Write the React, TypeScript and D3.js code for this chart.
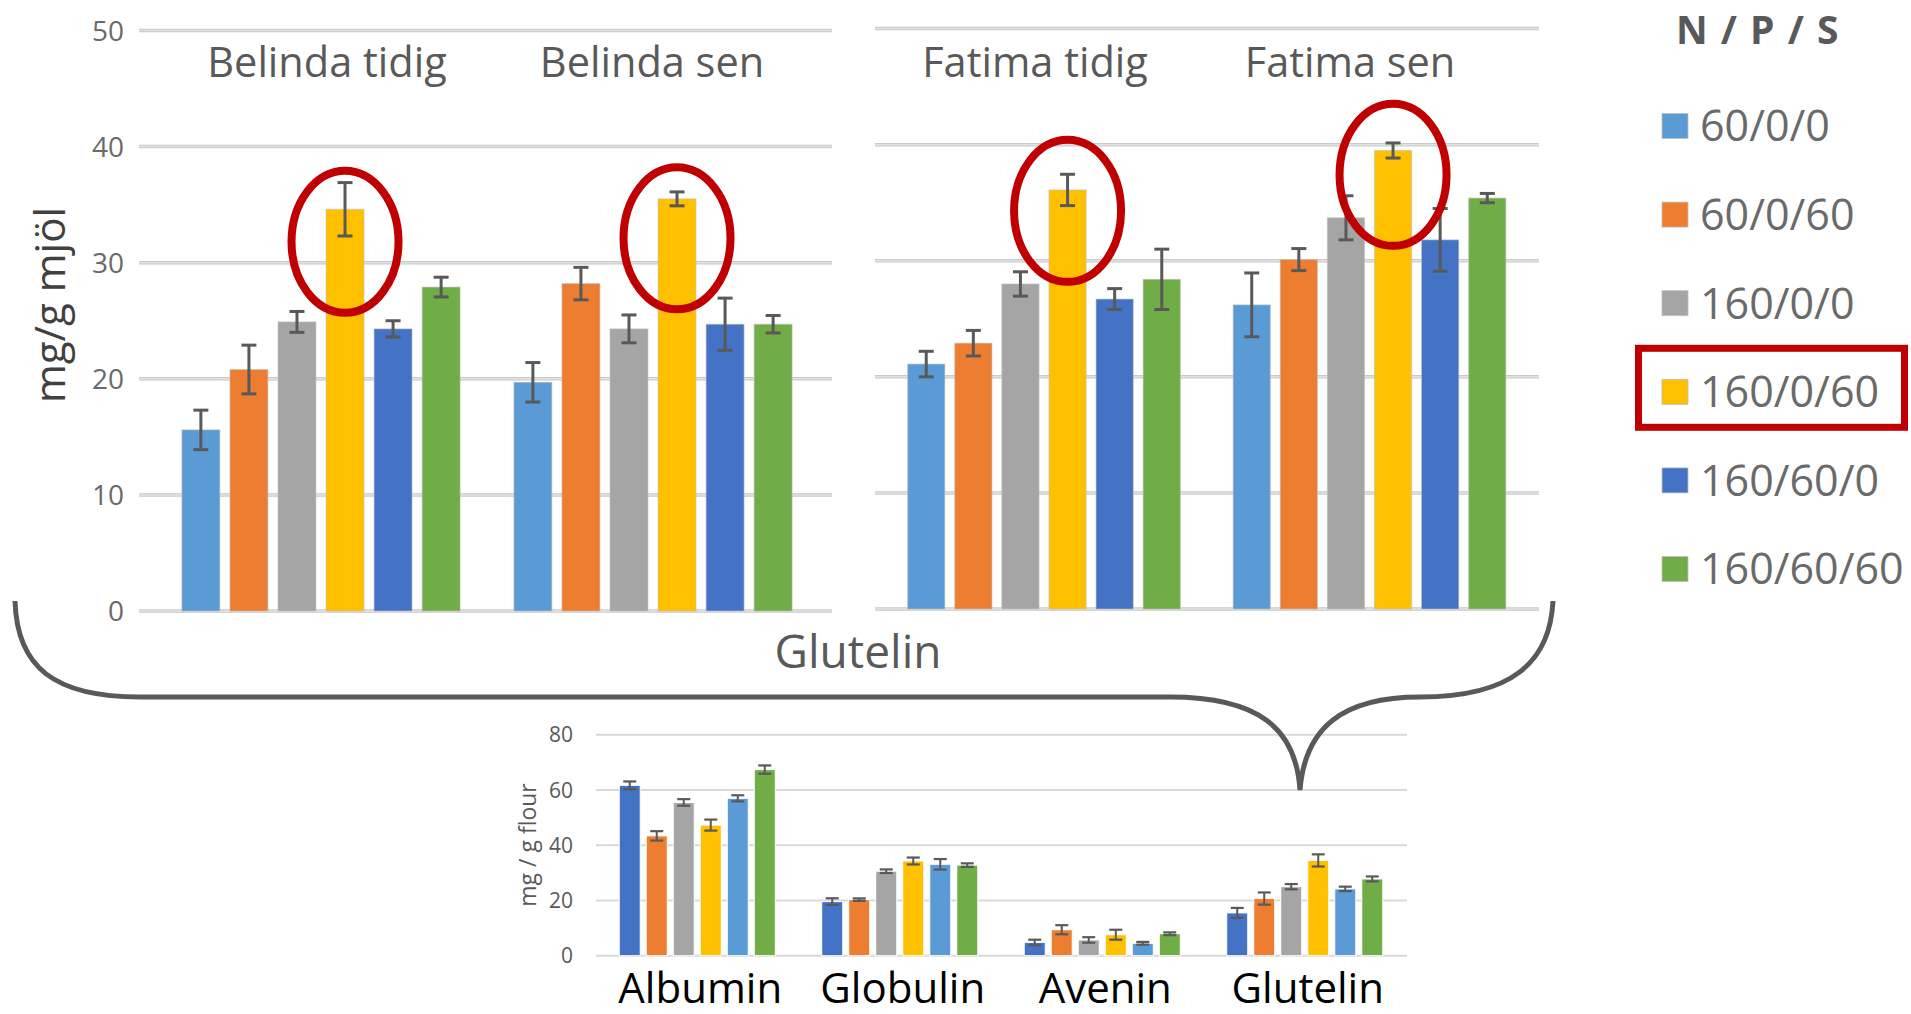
import React from "react";
import * as d3 from "d3";

// ---------- data ----------
const seriesLabels = ["60/0/0", "60/0/60", "160/0/0", "160/0/60", "160/60/0", "160/60/60"];
const seriesColors = ["#5B9BD5", "#ED7D31", "#A5A5A5", "#FFC000", "#4472C4", "#70AD47"];
const highlightSeries = "160/0/60";

const belindaGroups = ["Belinda tidig", "Belinda sen"];
const fatimaGroups = ["Fatima tidig", "Fatima sen"];

const belindaTidig = [15.6, 20.8, 24.9, 34.6, 24.3, 27.9];
const belindaTidigErr = [1.7, 2.1, 0.9, 2.3, 0.7, 0.85];
const belindaSen = [19.7, 28.2, 24.3, 35.5, 24.7, 24.7];
const belindaSenErr = [1.7, 1.4, 1.2, 0.6, 2.25, 0.75];
const fatimaTidig = [21.1, 22.9, 28.0, 36.1, 26.7, 28.4];
const fatimaTidigErr = [1.1, 1.1, 1.05, 1.35, 0.9, 2.6];
const fatimaSen = [26.2, 30.1, 33.7, 39.5, 31.8, 35.4];
const fatimaSenErr = [2.75, 0.95, 1.9, 0.65, 2.7, 0.4];

// value at the centre of each red highlight ellipse (per group)
const belindaHighlights = [31.8, 32.1];
const fatimaHighlights = [34.3, 37.4];

const topTicks = [0, 10, 20, 30, 40, 50];
const topYLabel = "mg/g mjöl";
const legendTitle = "N / P / S";
const braceLabel = "Glutelin";

const fractions = ["Albumin", "Globulin", "Avenin", "Glutelin"];
const fractionColors = ["#4472C4", "#ED7D31", "#A5A5A5", "#FFC000", "#5B9BD5", "#70AD47"];
const albumin = [61.7, 43.4, 55.5, 47.3, 57.0, 67.4];
const albuminErr = [1.4, 1.7, 1.2, 2.0, 1.1, 1.5];
const globulin = [19.6, 20.3, 30.6, 34.3, 33.1, 32.8];
const globulinErr = [1.2, 0.45, 0.65, 1.25, 1.9, 0.65];
const avenin = [4.8, 9.4, 5.7, 7.6, 4.5, 7.95];
const aveninErr = [1.0, 1.65, 1.0, 1.8, 0.5, 0.5];
const glutelin = [15.5, 20.7, 25.0, 34.5, 24.2, 27.8];
const glutelinErr = [1.8, 2.2, 0.95, 2.2, 0.8, 0.9];
const bottomTicks = [0, 20, 40, 60, 80];
const bottomYLabel = "mg / g flour";

const FONT = "'Open Sans', 'Noto Sans', sans-serif";
const GREY = "#595959";

type PanelProps = {
  groups: string[];
  values: number[][];
  errors: number[][];
  highlights: number[];
  xRange: [number, number];
  labelRange: [number, number];
  gridRange: [number, number];
  yRange: [number, number];
  showTicks: boolean;
};

function TopPanel(p: PanelProps) {
  const x0 = d3.scaleBand<string>().domain(p.groups).range(p.xRange).padding(0);
  const xl = d3.scaleBand<string>().domain(p.groups).range(p.labelRange).padding(0);
  const x1 = d3
    .scaleBand<string>()
    .domain(seriesLabels)
    .range([0, x0.bandwidth()])
    .paddingInner(0.21)
    .paddingOuter(0.56);
  const y = d3.scaleLinear().domain([0, 50]).range(p.yRange);
  const bw = x1.bandwidth();
  return (
    <g>
      {topTicks.map((t) => (
        <g key={t}>
          <line x1={p.gridRange[0]} x2={p.gridRange[1]} y1={y(t)} y2={y(t)} stroke="#C9C9C9" strokeWidth={3.5} />
          <line x1={p.gridRange[0]} x2={p.gridRange[1]} y1={y(t)} y2={y(t)} stroke="#E2E2E2" strokeWidth={1.5} />
          {p.showTicks && (
            <text x={124} y={y(t)} dy="0.36em" textAnchor="end" fontFamily={FONT} fontSize={28} fill="#6A6A6A">
              {t}
            </text>
          )}
        </g>
      ))}
      {p.groups.map((g, gi) => (
        <g key={g}>
          <text
            x={(xl(g) as number) + xl.bandwidth() / 2}
            y={77}
            textAnchor="middle"
            fontFamily={FONT}
            fontSize={41.5}
            fill={GREY}
          >
            {g}
          </text>
          {seriesLabels.map((s, si) => {
            const v = p.values[gi][si];
            const e = p.errors[gi][si];
            const x = (x0(g) as number) + (x1(s) as number);
            const cx = x + bw / 2;
            return (
              <g key={s}>
                <rect
                  x={x}
                  y={y(v)}
                  width={bw}
                  height={y(0) - y(v)}
                  fill={seriesColors[si]}
                  stroke="#BFBFBF"
                  strokeOpacity={0.6}
                  strokeWidth={1}
                />
                <line x1={cx} x2={cx} y1={y(v + e)} y2={y(v - e)} stroke={GREY} strokeWidth={3} />
                <line x1={cx - 7.5} x2={cx + 7.5} y1={y(v + e)} y2={y(v + e)} stroke={GREY} strokeWidth={3} />
                <line x1={cx - 7.5} x2={cx + 7.5} y1={y(v - e)} y2={y(v - e)} stroke={GREY} strokeWidth={3} />
              </g>
            );
          })}
          <ellipse
            cx={(x0(g) as number) + (x1(highlightSeries) as number) + bw / 2}
            cy={y(p.highlights[gi])}
            rx={53.5}
            ry={71}
            fill="none"
            stroke="#C00000"
            strokeWidth={8}
          />
        </g>
      ))}
    </g>
  );
}

function BottomChart() {
  const values = [albumin, globulin, avenin, glutelin];
  const errors = [albuminErr, globulinErr, aveninErr, glutelinErr];
  const x0 = d3.scaleBand<string>().domain(fractions).range([596, 1406]).padding(0);
  const x1 = d3
    .scaleBand<string>()
    .domain(seriesLabels)
    .range([0, x0.bandwidth()])
    .paddingInner(0.222)
    .paddingOuter(0.86);
  const y = d3.scaleLinear().domain([0, 80]).range([955.7, 734.8]);
  const bw = x1.bandwidth();
  return (
    <g>
      {bottomTicks.map((t) => (
        <g key={t}>
          <line x1={596} x2={1407} y1={y(t)} y2={y(t)} stroke="#D9D9D9" strokeWidth={2} />
          <text x={573} y={y(t)} dy="0.36em" textAnchor="end" fontFamily={FONT} fontSize={21} fill={GREY}>
            {t}
          </text>
        </g>
      ))}
      <text
        transform={`translate(536,845) rotate(-90)`}
        textAnchor="middle"
        fontFamily={FONT}
        fontSize={23}
        fill={GREY}
      >
        {bottomYLabel}
      </text>
      {fractions.map((f, fi) => (
        <g key={f}>
          <text
            x={(x0(f) as number) + x0.bandwidth() / 2 + 3}
            y={1003}
            textAnchor="middle"
            fontFamily={FONT}
            fontSize={42}
            fill="#000"
          >
            {f}
          </text>
          {seriesLabels.map((s, si) => {
            const v = values[fi][si];
            const e = errors[fi][si];
            const x = (x0(f) as number) + (x1(s) as number);
            const cx = x + bw / 2;
            return (
              <g key={s}>
                <rect x={x} y={y(v)} width={bw} height={y(0) - y(v)} fill={fractionColors[si]} stroke="#fff" strokeWidth={1} />
                <line x1={cx} x2={cx} y1={y(v + e)} y2={y(v - e)} stroke={GREY} strokeWidth={2} />
                <line x1={cx - 6.5} x2={cx + 6.5} y1={y(v + e)} y2={y(v + e)} stroke={GREY} strokeWidth={2.2} />
                <line x1={cx - 6.5} x2={cx + 6.5} y1={y(v - e)} y2={y(v - e)} stroke={GREY} strokeWidth={2.2} />
              </g>
            );
          })}
        </g>
      ))}
    </g>
  );
}

function Legend() {
  const ly = d3.scalePoint<string>().domain(seriesLabels).range([126, 569]);
  return (
    <g>
      <text
        x={1758}
        y={44}
        textAnchor="middle"
        fontFamily={FONT}
        fontWeight={700}
        fontSize={39}
        letterSpacing={1.5}
        fill={GREY}
      >
        {legendTitle}
      </text>
      {seriesLabels.map((s, i) => {
        const cy = ly(s) as number;
        return (
          <g key={s}>
            <rect x={1662} y={cy - 12.5} width={26} height={25} fill={seriesColors[i]} stroke="#BFBFBF" strokeWidth={0.8} />
            <text x={1700} y={cy} dy="0.36em" fontFamily={FONT} fontSize={43} fill="#6A6A6A">
              {s}
            </text>
          </g>
        );
      })}
      <rect
        x={1638.5}
        y={(ly(highlightSeries) as number) - 43.5}
        width={266}
        height={79}
        fill="none"
        stroke="#C00000"
        strokeWidth={7}
      />
    </g>
  );
}

export default function App() {
  const brace =
    "M15,601 C17,668 55,697 140,697 L1170,697 C1258,697 1296,728 1300,790 " +
    "C1305,728 1342,697 1420,697 C1512,697 1550,662 1553,601";
  return (
    <svg
      width={1911}
      height={1014}
      style={{ position: "absolute", left: 0, top: 0, background: "#fff" }}
    >
      <rect width={1911} height={1014} fill="#fff" />
      <TopPanel
        groups={belindaGroups}
        values={[belindaTidig, belindaSen]}
        errors={[belindaTidigErr, belindaSenErr]}
        highlights={belindaHighlights}
        xRange={[155, 819]}
        labelRange={[164.5, 814.5]}
        gridRange={[139, 832]}
        yRange={[611, 30.5]}
        showTicks={true}
      />
      <TopPanel
        groups={fatimaGroups}
        values={[fatimaTidig, fatimaSen]}
        errors={[fatimaTidigErr, fatimaSenErr]}
        highlights={fatimaHighlights}
        xRange={[881.25, 1532.25]}
        labelRange={[877.5, 1507.5]}
        gridRange={[875, 1539]}
        yRange={[609, 28.6]}
        showTicks={false}
      />
      <text
        transform="translate(65,305) rotate(-90)"
        textAnchor="middle"
        fontFamily={FONT}
        fontSize={42}
        fill="#404040"
      >
        {topYLabel}
      </text>
      <Legend />
      <BottomChart />
      <path d={brace} fill="none" stroke={GREY} strokeWidth={5} />
      <text x={858} y={668} textAnchor="middle" fontFamily={FONT} fontSize={46} fill={GREY}>
        {braceLabel}
      </text>
    </svg>
  );
}
